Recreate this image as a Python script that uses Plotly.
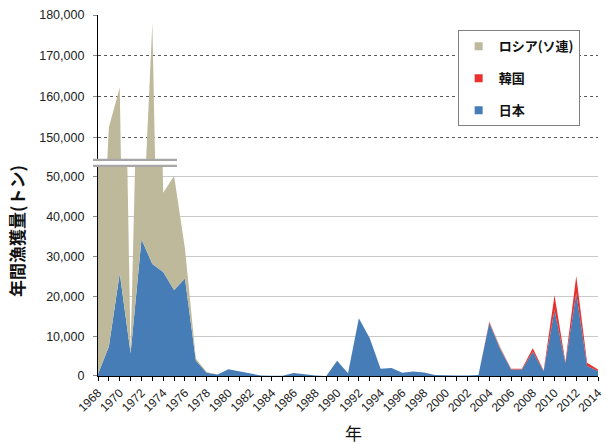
import plotly.graph_objects as go

years = list(range(1968, 2015))

japan = [500, 7400, 25800, 5700, 34300, 28100, 26100, 21600, 24500, 3900,
         800, 400, 1700, 1200, 700, 100, 50, 50, 750, 350,
         100, 0, 3800, 700, 14500, 9500, 1800, 2000, 800, 1100,
         850, 250, 100, 100, 150, 250, 13300, 6800, 1650, 1650,
         6100, 1250, 16600, 3200, 20800, 2500, 1250]

korea = [0] * 36 + [300, 200, 150, 150, 850, 150, 3700, 300, 4300, 850, 400]

russia = [97500, 145200, 136500, 300, 85700, 149900, 19900, 28600, 7500, 500,
          200, 0, 0, 0, 0, 0, 0, 0, 0, 0,
          0, 0, 0, 0, 0, 0, 0, 0, 0, 0,
          0, 0, 0, 0, 0, 0, 0, 400, 0, 0,
          0, 0, 0, 0, 0, 0, 0]

names = ["日本", "韓国", "ロシア(ソ連)"]
colors = ["#477db6", "#e8312e", "#bfb99b"]
series = [japan, korea, russia]

bottom_ticks = [0, 10000, 20000, 30000, 40000, 50000]
top_ticks = [150000, 160000, 170000, 180000]
year_labels = list(range(1968, 2015, 2))

fig = go.Figure()

for axis, grp in (("y", "bottom"), ("y2", "top")):
    for name, col, vals in zip(names, colors, series):
        fig.add_trace(go.Scatter(
            x=years, y=vals, name=name, yaxis=axis, xaxis="x",
            stackgroup=grp, mode="lines",
            line=dict(width=0, color=col), fillcolor=col,
            showlegend=False, hoverinfo="skip"))

# legend-only entries (top to bottom: Russia, Korea, Japan)
for name, col in zip(reversed(names), reversed(colors)):
    fig.add_trace(go.Scatter(
        x=[None], y=[None], name=name, mode="markers", legendgroup=name,
        marker=dict(symbol="square", size=8, color=col), yaxis="y"))

tickfont = dict(family="Liberation Sans, Arial, sans-serif", size=12.5, color="#222")
cjk = "Noto Sans CJK JP"

plot_top, plot_bot = 15.3, 376.0
H = plot_bot - plot_top
d_bot_top = (plot_bot - 166) / H
d_top_bot = (plot_bot - 160) / H

fig.update_layout(
    width=607, height=444,
    margin=dict(l=98, r=2, t=15, b=68),
    paper_bgcolor="white", plot_bgcolor="white",
    xaxis=dict(range=[1968, 2014], tickmode="array", tickvals=year_labels,
               ticktext=[str(y) for y in year_labels], tickangle=-45,
               ticklabeloverflow="allow",
               ticks="outside", ticklen=4, tickcolor="black",
               minor=dict(dtick=1, tick0=1968, ticks="outside", ticklen=4, tickcolor="black", showgrid=False),
               showline=True, linecolor="black", linewidth=1.2,
               showgrid=False, zeroline=False,
               tickfont=dict(family="Liberation Sans, Arial, sans-serif", size=12, color="#1a1a1a")),
    yaxis=dict(domain=[0, d_bot_top], range=[0, 52760], tickmode="array",
               tickvals=bottom_ticks, tickformat=",",
               showline=True, linecolor="black", linewidth=1.2,
               ticks="outside", ticklen=4, tickcolor="#888",
               showgrid=True, gridcolor="#c9c9c9", gridwidth=1,
               zeroline=False, tickfont=tickfont, ticklabelstandoff=6),
    yaxis2=dict(domain=[d_top_bot, 1], range=[144650, 180000], tickmode="array",
                tickvals=top_ticks, tickformat=",", anchor="x",
                showline=True, linecolor="black", linewidth=1.2,
                ticks="outside", ticklen=4, tickcolor="#888",
                showgrid=True, gridcolor="#5a5a5a", gridwidth=1, griddash="dot",
                zeroline=False, tickfont=tickfont, ticklabelstandoff=6),
    legend=dict(x=(462.7 - 98) / 507, y=(plot_bot - 30.7) / H, xanchor="left", yanchor="top",
                bgcolor="white", bordercolor="#7f7f7f", borderwidth=1,
                font=dict(family=cjk, size=13, color="#111", weight="bold"),
                traceorder="grouped", tracegroupgap=12),
    showlegend=True,
    shapes=[
        dict(type="line", xref="paper", yref="paper", x0=-0.01, x1=0.158,
             y0=d_top_bot, y1=d_top_bot, line=dict(color="#a6a6a6", width=2.2)),
        dict(type="line", xref="paper", yref="paper", x0=-0.01, x1=0.158,
             y0=d_bot_top, y1=d_bot_top, line=dict(color="#a6a6a6", width=2.2)),
    ],
    annotations=[
        dict(text="年間漁獲量(トン)", xref="paper", yref="paper",
             x=(16 - 98) / 507, y=(plot_bot - 231) / H, textangle=-90,
             showarrow=False, xanchor="center", yanchor="middle",
             font=dict(family=cjk, size=17, color="#111", weight="bold")),
        dict(text="年", xref="paper", yref="paper",
             x=(357 - 98) / 507, y=(plot_bot - 432) / H,
             showarrow=False, xanchor="center", yanchor="middle",
             font=dict(family=cjk, size=17, color="#111")),
    ],
)

fig.write_html("out.html", config={"displayModeBar": False},
               post_script="document.body.style.margin='0';document.body.style.overflow='hidden';")
